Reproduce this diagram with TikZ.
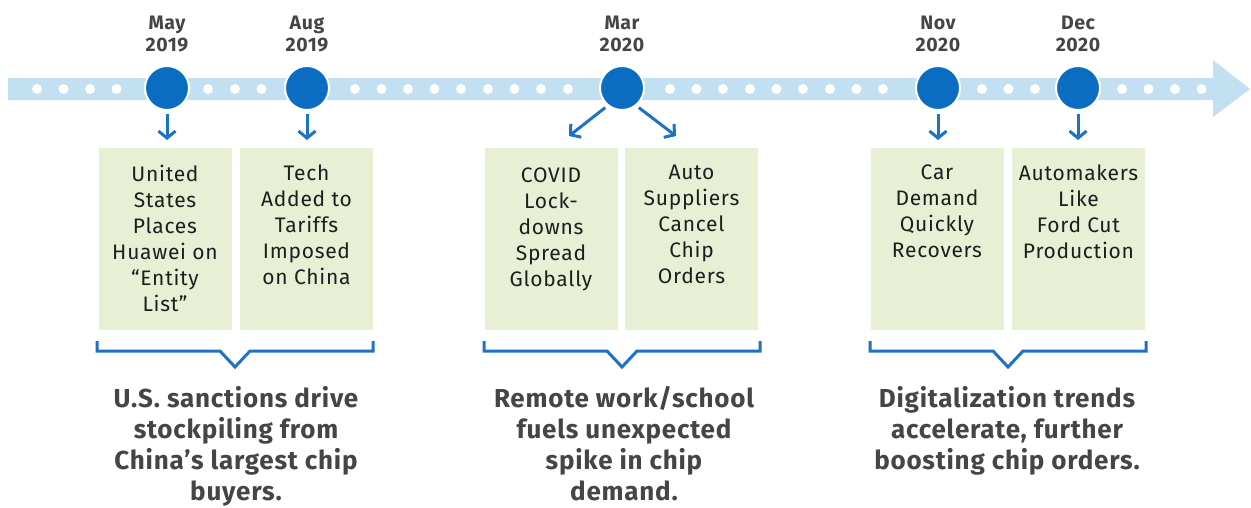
\documentclass[tikz,border=0pt]{standalone}
\usepackage{fontspec}
\setmainfont{Fira Sans}
\newfontfamily\cardfont[LetterSpace=3.5]{Fira Sans}
\newfontfamily\headfont[LetterSpace=3]{Fira Sans}
\usetikzlibrary{arrows.meta}
\definecolor{band}{HTML}{C3DFF2}
\definecolor{dotblue}{HTML}{0B6DC1}
\definecolor{linkblue}{HTML}{1D72C2}
\definecolor{boxgreen}{HTML}{E7EFD4}
\definecolor{labgray}{HTML}{454547}
\definecolor{txtdark}{HTML}{1E1E1E}
\tikzset{
  event/.style={circle, fill=dotblue, draw=white, line width=2pt, minimum size=44pt, inner sep=0pt},
  date/.style={font=\headfont\fontsize{19.5}{22.5}\selectfont\bfseries, text=labgray, align=center, inner sep=0pt, anchor=north},
  card/.style={fill=boxgreen, draw=none, minimum width=133pt, minimum height=182pt, anchor=north, inner sep=0pt},
  cardtext/.style={font=\cardfont\fontsize{21}{26}\selectfont, text=txtdark, align=center, inner sep=0pt, anchor=north},
  summary/.style={font=\headfont\fontsize{26}{31}\selectfont\bfseries, text=labgray, align=center, inner sep=0pt, anchor=north},
  pointer/.style={linkblue, line width=3pt, -{Straight Barb[length=7pt,width=17pt,line width=3pt]}},
  bracket/.style={linkblue, line width=3pt, line join=miter},
  hole/.style={circle, fill=white, minimum size=10pt, inner sep=0pt}
}
\begin{document}
\begin{tikzpicture}[x=1pt,y=-1pt]
\useasboundingbox (0,0) rectangle (1251,507);
% timeline band
\fill[band] (8,78) -- (1213,78) -- (1213,60) -- (1250,89) -- (1213,117) -- (1213,100) -- (8,100) -- cycle;
\foreach \x in {37,63.5,90,116.5,208,235,261.5,355,381.5,408,434.5,461,488,514.5,541,568,670,696.5,723,750,776.5,803,830,856.5,883,982,1008.5,1035,1122,1148.5,1175,1201.5}
  \node[hole] at (\x,89) {};
% events
\node[event] (may) at (167,88) {};
\node[event] (aug) at (307,88) {};
\node[event] (mar) at (622,88) {};
\node[event] (nov) at (938,88) {};
\node[event] (dec) at (1078,88) {};
% dates
\node[date] (dmay) at (167,15.5) {May\\2019};
\node[date] (daug) at (307,15.5) {Aug\\2019};
\node[date] (dmar) at (622,15.5) {Mar\\2020};
\node[date] (dnov) at (938,15.5) {Nov\\2020};
\node[date] (ddec) at (1078,15.5) {Dec\\2020};
% cards
\node[card] (c1) at (165,148) {};
\node[card] (c2) at (306.5,148) {};
\node[card] (c3) at (551,148) {};
\node[card] (c4) at (691.5,148) {};
\node[card] (c5) at (937,148) {};
\node[card] (c6) at (1078.5,148) {};
\node[cardtext] (t1) at (165,164.5) {United\\States\\Places\\Huawei on\\“Entity\\List”};
\node[cardtext] (t2) at (306.5,164.5) {Tech\\Added to\\Tariffs\\Imposed\\on China};
\node[cardtext] (t3) at (551,167.5) {COVID\\Lock-\\downs\\Spread\\Globally};
\node[cardtext] (t4) at (691.5,164.5) {Auto\\Suppliers\\Cancel\\Chip\\Orders};
\node[cardtext] (t5) at (937,164.5) {Car\\Demand\\Quickly\\Recovers};
\node[cardtext] (t6) at (1078.5,164.5) {Automakers\\Like\\Ford Cut\\Production};
% pointers
\coordinate (pmay) at (167,140);
\coordinate (paug) at (307,140);
\coordinate (pnov) at (938,140);
\coordinate (pdec) at (1078,140);
\coordinate (pmarl) at (569,136);
\coordinate (pmarr) at (676,136);
\draw[pointer] (may.south) ++(0,3) -- (pmay);
\draw[pointer] (aug.south) ++(0,3) -- (paug);
\draw[pointer] (nov.south) ++(0,3) -- (pnov);
\draw[pointer] (dec.south) ++(0,3) -- (pdec);
\draw[pointer] (mar.-130) ++(-2,2) -- (pmarl);
\draw[pointer] (mar.-50) ++(2,2) -- (pmarr);
% brackets
\coordinate (b1) at (235,367);
\coordinate (b2) at (622,367);
\coordinate (b3) at (1008,367);
\draw[bracket] (97,341) -- (97,351) -- (220,351) -- (b1) -- (250,351) -- (373,351) -- (373,341);
\draw[bracket] (484,341) -- (484,351) -- (607,351) -- (b2) -- (637,351) -- (760,351) -- (760,341);
\draw[bracket] (870,341) -- (870,351) -- (993,351) -- (b3) -- (1023,351) -- (1146,351) -- (1146,341);
% summaries
\node[summary] (s1) at (236,386) {U.S. sanctions drive\\stockpiling from\\China’s largest chip\\buyers.};
\node[summary] (s2) at (624,386) {Remote work/school\\fuels unexpected\\spike in chip\\demand.};
\node[summary] (s3) at (1007,386) {Digitalization trends\\accelerate, further\\boosting chip orders.};
\end{tikzpicture}
\end{document}
